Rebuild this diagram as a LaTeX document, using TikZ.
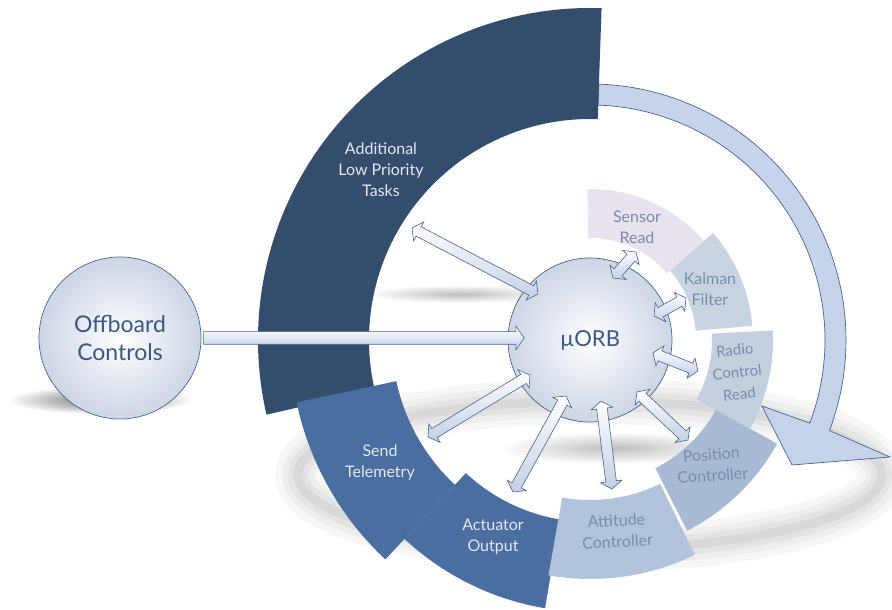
\documentclass[tikz,border=0pt]{standalone}
\usepackage{fontspec}
\setmainfont{Lato}
\usetikzlibrary{shapes.arrows,calc,fadings}

\definecolor{lowprio}{RGB}{52,77,109}
\definecolor{sendblue}{RGB}{74,110,160}
\definecolor{attfill}{RGB}{178,195,220}
\definecolor{posfill}{RGB}{168,186,212}
\definecolor{radiofill}{RGB}{196,207,224}
\definecolor{kalmanfill}{RGB}{201,212,227}
\definecolor{sensorfill}{RGB}{232,227,238}
\definecolor{ringfill}{RGB}{199,211,232}
\definecolor{ringedge}{RGB}{70,100,145}
\definecolor{orbfill}{RGB}{205,214,229}
\definecolor{orbedge}{RGB}{72,98,138}
\definecolor{orbtext}{RGB}{60,88,130}
\definecolor{paletext}{RGB}{122,140,168}
\definecolor{lighttext}{RGB}{228,233,240}
\definecolor{arrowfill}{RGB}{196,208,230}

\tikzfading[name=softspot, inner color=transparent!0, outer color=transparent!100]

\tikzset{
  orbball/.style={circle, draw=orbedge, line width=0.7, inner color=white, outer color=orbfill, text=orbtext},
  seglabel/.style={align=center, font=\fontsize{16}{21}\selectfont, text=paletext},
  darklabel/.style={seglabel, text=lighttext},
  dblarrow/.style={double arrow, draw=orbedge, line width=0.6, top color=white, bottom color=arrowfill,
    inner xsep=0, inner ysep=5, double arrow head extend=5.5, double arrow tip angle=110},
  sglarrow/.style={single arrow, draw=orbedge, line width=0.6, top color=white, bottom color=arrowfill,
    inner xsep=0, inner ysep=6, single arrow head extend=5.5, single arrow tip angle=110},
  softshadow/.style={fill=black!60, path fading=softspot},
  ringshadow/.style={draw=black!70}
}

\newcommand{\blockarrow}[3][dblarrow]{%
  \path let \p1=($(#3)-(#2)$), \n1={veclen(\x1,\y1)}, \n2={atan2(\y1,\x1)} in
    node[#1, minimum height=\n1, rotate=\n2] at ($(#2)!0.5!(#3)$) {};}

\begin{document}
\begin{tikzpicture}[x=1pt,y=1pt]
\useasboundingbox (-590,-270) rectangle (302,340);

\fill[softshadow, fill=black!55] (-490,-60) ellipse (92 and 14);
\fill[softshadow, fill=black!25] (-130,46) ellipse (95 and 9);
\fill[softshadow, fill=black!25] (25,-108) ellipse (115 and 16);
\draw[ringshadow, opacity=.045, line width=46] (0,-135) ellipse (292 and 74);
\draw[ringshadow, opacity=.055, line width=32] (0,-135) ellipse (292 and 74);
\draw[ringshadow, opacity=.065, line width=20] (0,-135) ellipse (292 and 74);
\draw[ringshadow, opacity=.07, line width=9] (0,-135) ellipse (292 and 74);

\filldraw[fill=ringfill, draw=ringedge, line width=0.7]
  (88:235) arc[start angle=88, end angle=-20.7, radius=235] -- (172,-66) -- (202,-125) -- (300,-117)
  -- (-20.7:256) arc[start angle=-20.7, end angle=88, radius=256] -- cycle;

\fill[lowprio] (88:221) arc[start angle=88, end angle=193, radius=221] -- (193:332) arc[start angle=193, end angle=88, radius=332] -- cycle;
\fill[sendblue] (-168:198) arc[start angle=-168, end angle=-133, radius=198] -- (-133:300) arc[start angle=-133, end angle=-168, radius=300] -- cycle;
\fill[sendblue] (-133:182) arc[start angle=-133, end angle=-99.5, radius=182] -- (-99.5:272) arc[start angle=-99.5, end angle=-133, radius=272] -- cycle;
\fill[attfill] (-100:160) arc[start angle=-100, end angle=-64, radius=160] -- (-64:239) arc[start angle=-64, end angle=-100, radius=239] -- cycle;
\fill[posfill] (-63:144) arc[start angle=-63, end angle=-29, radius=144] -- (-29:214) arc[start angle=-29, end angle=-63, radius=214] -- cycle;
\fill[radiofill] (-29:122) arc[start angle=-29, end angle=3, radius=122] -- (3:183) arc[start angle=3, end angle=-29, radius=183] -- cycle;
\fill[kalmanfill] (5:106) arc[start angle=5, end angle=41, radius=106] -- (41:163) arc[start angle=41, end angle=5, radius=163] -- cycle;
\fill[sensorfill] (41:102) arc[start angle=41, end angle=91, radius=102] -- (91:151) arc[start angle=91, end angle=41, radius=151] -- cycle;

\node[darklabel] (lowprio) at (-209,170) {Additional\\Low Priority\\Tasks};
\node[darklabel] (telemetry) at (-210,-122) {Send\\Telemetry};
\node[darklabel] (actuator) at (-97,-197) {Actuator\\Output};
\node[seglabel, rotate=3] (attitude) at (27,-191) {Attitude\\Controller};
\node[seglabel, rotate=4] (position) at (122,-125) {Position\\Controller};
\node[seglabel, rotate=6, font=\fontsize{15}{22}\selectfont] (radio) at (147,-32) {Radio\\Control\\Read};
\node[seglabel] (kalman) at (120,51) {Kalman\\Filter};
\node[seglabel] (sensor) at (47,113) {Sensor\\Read};

\node[orbball, minimum size=162, align=center, font=\fontsize{23}{28}\selectfont] (offboard) at (-470,2) {Offboard\\Controls};
\node[orbball, minimum size=164, font=\fontsize{22}{26}\selectfont] (orb) at (0,0) {µORB};

\coordinate (offtip) at (-68,2);
\coordinate (low1) at (-178,112);
\coordinate (low2) at (-52,46);
\coordinate (sen1) at (23,62);
\coordinate (sen2) at (46,88);
\coordinate (kal1) at (64,24);
\coordinate (kal2) at (96,42);
\coordinate (rad1) at (63,-13);
\coordinate (rad2) at (108,-31);
\coordinate (pos1) at (47,-52);
\coordinate (pos2) at (98,-100);
\coordinate (att1) at (11,-61);
\coordinate (att2) at (22,-149);
\coordinate (act1) at (-24,-56);
\coordinate (act2) at (-77,-152);
\coordinate (tel1) at (-60,-35);
\coordinate (tel2) at (-162,-97);

\blockarrow[sglarrow]{offboard.east}{offtip}
\blockarrow{low1}{low2}
\blockarrow{sen1}{sen2}
\blockarrow{kal1}{kal2}
\blockarrow{rad1}{rad2}
\blockarrow{pos1}{pos2}
\blockarrow{att1}{att2}
\blockarrow{act1}{act2}
\blockarrow{tel1}{tel2}
\end{tikzpicture}
\end{document}
